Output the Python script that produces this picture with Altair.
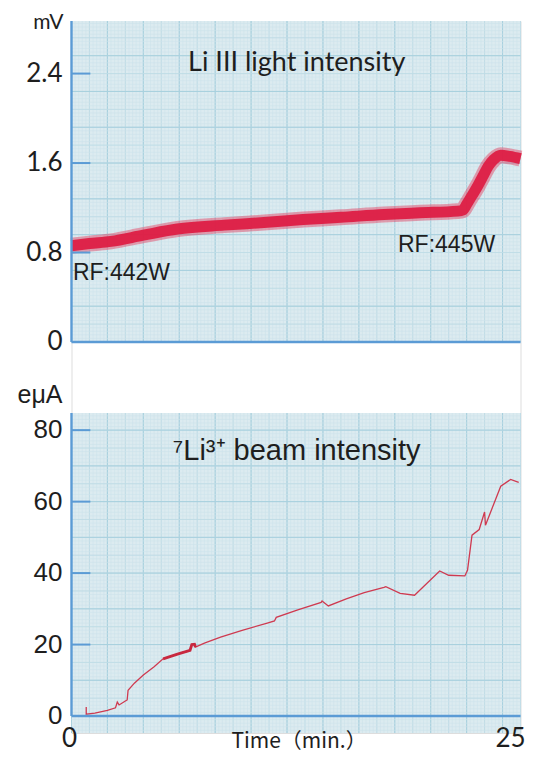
import altair as alt
import pandas as pd

# ---------------- data ----------------
# top panel: Li III light intensity (mV), centre of the recorded band
light_t = [0, 1.0, 2.2, 4.0, 5.9, 8.5, 10.9, 12.9, 15.0, 17.4, 19.4, 21.5,
           21.8, 22.0, 22.3, 22.6, 22.9, 23.2, 23.5, 23.9, 24.4, 25.0]
light_v = [0.86, 0.88, 0.90, 0.955, 1.01, 1.045, 1.07, 1.095, 1.115, 1.14, 1.155, 1.17,
           1.18, 1.23, 1.31, 1.39, 1.48, 1.57, 1.63, 1.67, 1.66, 1.64]

# bottom panel: 7Li3+ beam intensity (e microA)
beam_t = [0.82, 0.82, 1.3, 2.0, 2.45, 2.55, 2.65, 3.0, 3.1, 3.15, 3.5, 4.0, 4.6, 5.1,
          5.9, 6.6, 6.7, 6.85, 6.9, 7.4, 8.3, 9.5, 10.9, 11.3, 11.4, 12.6, 13.9, 13.95,
          14.3, 15.3, 16.3, 17.4, 17.5, 18.3, 19.1, 20.5, 21.0, 21.9, 22.05, 22.3,
          22.7, 23.0, 23.05, 23.9, 24.45, 24.9]
beam_v = [2.5, 0.5, 0.8, 1.6, 2.3, 3.9, 3.1, 4.2, 4.5, 7.2, 9.2, 11.5, 13.8, 16.0,
          17.3, 18.4, 20.0, 20.1, 19.3, 20.4, 22.1, 24.0, 26.0, 26.6, 27.6, 29.7, 31.8, 32.2,
          30.8, 32.8, 34.5, 36.0, 36.2, 34.3, 33.8, 40.6, 39.4, 39.2, 40.8, 50.6,
          52.2, 57.1, 53.4, 64.3, 66.2, 65.4]

top_ticks = [0, 0.8, 1.6, 2.4]
top_tick_labels = ["0", "0.8", "1.6", "2.4"]
bottom_ticks = [0, 20, 40, 60, 80]
bottom_tick_labels = ["0", "20", "40", "60", "80"]
time_ticks = [0, 25]
time_tick_labels = ["0", "25"]

top_dom = [0, 2.87]
bot_dom = [-4.75, 84.8]
x_dom = [0, 25]

# graph-paper rulings (decoration): 1 mm, 5 mm, 10 mm
gx_minor = [round(i * 0.2, 2) for i in range(0, 126)]
gx_mid = [float(i) for i in range(0, 26)]
gx_major = [float(i) for i in range(0, 26, 2)]
gy_top_minor = [round(i * 0.032, 3) for i in range(0, 90)]
gy_top_mid = [round(i * 0.16, 3) for i in range(0, 18)]
gy_top_major = [round(i * 0.32, 3) for i in range(0, 9)]
gy_bot_minor = [float(i) for i in range(-4, 85)]
gy_bot_mid = [float(i) for i in range(0, 85, 5)]
gy_bot_major = [float(i) for i in range(0, 85, 10)]

light = pd.DataFrame({"t": light_t, "v": light_v})
beam = pd.DataFrame({"t": beam_t, "v": beam_v})

W, H = 449, 712
TOP_RANGE = [321, 0]
BOT_RANGE = [712, 392]
AXIS_BLUE = "#5b9bd5"
TXT = "#1e1e1e"
PAPER = "#dcebf0"
GRID = [("#cde3eb", 0.6), ("#bcdae5", 0.8), ("#a8d0de", 1.0)]

XS = alt.Scale(domain=x_dom, nice=False, zero=False)


def X(field):
    return alt.X(field, scale=XS, axis=None)


def Y(field, ys):
    return alt.Y(field, scale=ys, axis=None)


def panel_base(ys, ydom, gy_lists):
    layers = [
        alt.Chart(pd.DataFrame({"x0": [x_dom[0]], "x1": [x_dom[1]], "y0": [ydom[0]], "y1": [ydom[1]]}))
        .mark_rect(color=PAPER).encode(x=X("x0:Q"), x2="x1:Q", y=Y("y0:Q", ys), y2="y1:Q")
    ]
    for vals, (col, sw) in zip([gx_minor, gx_mid, gx_major], GRID):
        df = pd.DataFrame({"g": vals, "y0": ydom[0], "y1": ydom[1]})
        layers.append(alt.Chart(df).mark_rule(color=col, strokeWidth=sw)
                      .encode(x=X("g:Q"), y=Y("y0:Q", ys), y2="y1:Q"))
    for vals, (col, sw) in zip(gy_lists, GRID):
        layers.append(alt.Chart(pd.DataFrame({"g": vals})).mark_rule(color=col, strokeWidth=sw)
                      .encode(y=Y("g:Q", ys)))
    return layers


def text_layer(df, ys, font, size, align, baseline="alphabetic", dx=0):
    return alt.Chart(df).mark_text(font=font, fontSize=size, color=TXT, align=align,
                                   baseline=baseline, dx=dx).encode(
        x=X("t:Q"), y=Y("v:Q", ys), text="label:N")


def frame(ys, ydom, tick_vals):
    tick_df = pd.DataFrame({"y": tick_vals, "x0": [0] * len(tick_vals), "x1": [1.05] * len(tick_vals)})
    ticks = alt.Chart(tick_df).mark_rule(color=AXIS_BLUE, strokeWidth=2).encode(
        x=X("x0:Q"), x2="x1:Q", y=Y("y:Q", ys))
    left = alt.Chart(pd.DataFrame({"x": [0], "y0": [0], "y1": [ydom[1]]})).mark_rule(
        color=AXIS_BLUE, strokeWidth=2.4).encode(x=X("x:Q"), y=Y("y0:Q", ys), y2="y1:Q")
    base = alt.Chart(pd.DataFrame({"y": [0]})).mark_rule(color=AXIS_BLUE, strokeWidth=2.4).encode(
        y=Y("y:Q", ys))
    return [ticks, left, base]


# ---------------- top panel ----------------
ys_top = alt.Scale(domain=top_dom, range=TOP_RANGE, nice=False, zero=False)

band_outer = alt.Chart(light).mark_line(color="#e23a5a", strokeWidth=16, opacity=0.45,
                                        interpolate="monotone", strokeCap="butt").encode(
    x=X("t:Q"), y=Y("v:Q", ys_top))
band_inner = alt.Chart(light).mark_line(color="#dd1e44", strokeWidth=11, opacity=0.95,
                                        interpolate="monotone", strokeCap="butt").encode(
    x=X("t:Q"), y=Y("v:Q", ys_top))

top_lab = pd.DataFrame({"t": [-0.5] * 4, "v": top_ticks, "label": top_tick_labels})
top_unit = pd.DataFrame({"t": [-0.45], "v": [2.798], "label": ["mV"]})
top_title_df = pd.DataFrame({"t": [6.49], "v": [2.42], "label": ["Li III light intensity"]})
top_rf_df = pd.DataFrame({"t": [0.08, 18.18], "v": [0.554, 0.804], "label": ["RF:442W", "RF:445W"]})

top_layers = (
    panel_base(ys_top, top_dom, [gy_top_minor, gy_top_mid, gy_top_major])
    + [band_outer, band_inner]
    + frame(ys_top, top_dom, top_ticks[1:])
    + [
        text_layer(top_lab, ys_top, "Lato", 26, "right", "middle"),
        text_layer(top_unit, ys_top, "Lato", 21, "right"),
        text_layer(top_title_df, ys_top, "Lato", 27, "left"),
        text_layer(top_rf_df, ys_top, "Liberation Sans", 23, "left"),
    ]
)

# ---------------- bottom panel ----------------
ys_bot = alt.Scale(domain=bot_dom, range=BOT_RANGE, nice=False, zero=False)

beam_line = alt.Chart(beam).mark_line(color="#cf3a50", strokeWidth=1.3).encode(
    x=X("t:Q"), y=Y("v:Q", ys_bot))
beam_thick = alt.Chart(beam).transform_filter(
    (alt.datum.t >= 5.1) & (alt.datum.t <= 6.9)).mark_line(color="#c8283f", strokeWidth=2.8).encode(
    x=X("t:Q"), y=Y("v:Q", ys_bot))

bot_lab = pd.DataFrame({"t": [-0.5] * 5, "v": bottom_ticks, "label": bottom_tick_labels})
bot_unit = pd.DataFrame({"t": [-0.5], "v": [87.55], "label": ["eμA"]})
bot_title_df = pd.DataFrame({"t": [5.64], "v": [71.6], "label": ["⁷Li³⁺ beam intensity"]})
time_lab0 = pd.DataFrame({"t": [time_ticks[0]], "v": [-8.67], "label": [time_tick_labels[0]]})
time_lab1 = pd.DataFrame({"t": [time_ticks[1]], "v": [-8.67], "label": [time_tick_labels[1]]})
time_title = pd.DataFrame({"t": [12.67], "v": [-8.95], "label": ["Time（min.）"]})

bot_layers = (
    panel_base(ys_bot, bot_dom, [gy_bot_minor, gy_bot_mid, gy_bot_major])
    + [beam_line, beam_thick]
    + frame(ys_bot, bot_dom, bottom_ticks[1:])
    + [
        text_layer(bot_lab, ys_bot, "Liberation Sans", 26, "right", "middle"),
        text_layer(bot_unit, ys_bot, "Liberation Sans", 25, "right"),
        text_layer(bot_title_df, ys_bot, "Liberation Sans", 29, "left"),
        text_layer(time_lab0, ys_bot, "Lato", 26, "center", dx=-2),
        text_layer(time_lab1, ys_bot, "Lato", 26, "center", dx=-10),
        text_layer(time_title, ys_bot, "Noto Sans CJK JP", 21, "center"),
    ]
)

chart = alt.layer(*(top_layers + bot_layers)).resolve_scale(y="independent").properties(
    width=W, height=H,
    autosize=alt.AutoSizeParams(type="none"),
    padding={"left": 63.5, "top": 13, "right": 5.5, "bottom": 21},
).configure_view(stroke=None).configure(background="white")

chart.save("out.html", embed_options={"renderer": "svg", "actions": False})
